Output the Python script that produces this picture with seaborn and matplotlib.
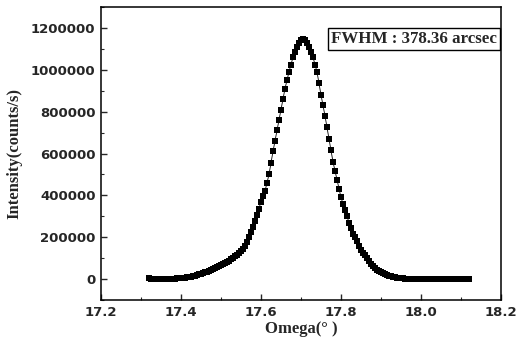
import numpy as np
import pandas as pd
import matplotlib
matplotlib.use('Agg')
import matplotlib.pyplot as plt
import seaborn as sns
from matplotlib.ticker import MultipleLocator, FormatStrFormatter

# omega scan: 17.320 .. 18.120 deg, step 0.005
omega_start = 17.32
omega_step = 0.005

# intensity, in units of 1000 counts/s
intensity_k = [
    3, 2, 2, 1, 1, 1, 1, 1, 1, 1,
    1, 1, 1, 2, 3, 3, 4, 5, 7, 8,
    10, 12, 15, 17, 20, 23, 26, 29, 32, 36,
    40, 44, 48, 52, 57, 61, 66, 71, 77, 82,
    88, 94, 101, 108, 115, 125, 135, 146, 158, 178,
    200, 225, 250, 277, 305, 337, 370, 395, 420, 460,
    500, 555, 610, 660, 710, 760, 810, 860, 910, 950,
    990, 1025, 1060, 1085, 1110, 1127, 1140, 1145, 1143, 1130,
    1110, 1085, 1060, 1025, 990, 935, 880, 830, 780, 725,
    670, 615, 560, 518, 475, 432, 390, 360, 330, 300,
    270, 242, 215, 200, 182, 160, 140, 127, 113, 99,
    85, 73, 62, 53, 45, 38, 32, 28, 24, 20,
    16, 13, 11, 8, 6, 5, 4, 3, 2, 2,
    1, 1, 0, 1, 1, 0, 0, 0, 0, 0,
    0, 0, 0, 0, 0, 0, 0, 0, 0, 0,
    0, 0, 0, 0, 0, 0, 0, 0, 0, 0,
    0,
]

x_ticks = [17.2, 17.4, 17.6, 17.8, 18.0, 18.2]
y_ticks = [0, 200000, 400000, 600000, 800000, 1000000, 1200000]
fwhm_label = 'FWHM : 378.36 arcsec'

df = pd.DataFrame({
    'omega': np.round(omega_start + omega_step * np.arange(len(intensity_k)), 3),
    'intensity': np.array(intensity_k) * 1000,
})

sns.set_style('ticks')
plt.rcParams['font.family'] = ['DejaVu Sans']
plt.rcParams['xtick.direction'] = 'in'
plt.rcParams['ytick.direction'] = 'in'

fig = plt.figure(figsize=(5.19, 3.45), dpi=100)
ax = fig.add_axes([0.1946, 0.1304, 0.7707, 0.8493])

sns.lineplot(data=df, x='omega', y='intensity', ax=ax, color='black',
             linewidth=0.6, marker='s', markersize=4.6, markeredgewidth=0,
             markerfacecolor='black')

ax.set_xlim(17.2, 18.2)
ax.set_ylim(-100000, 1300000)
ax.set_xticks(x_ticks)
ax.set_yticks(y_ticks)
ax.xaxis.set_major_formatter(FormatStrFormatter('%.1f'))
ax.yaxis.set_major_formatter(FormatStrFormatter('%d'))
ax.xaxis.set_minor_locator(MultipleLocator(0.1))
ax.yaxis.set_minor_locator(MultipleLocator(100000))
ax.tick_params(which='major', length=4, width=1, labelsize=9.5, pad=4)
ax.tick_params(which='minor', length=2, width=0.8)
for lbl in ax.get_xticklabels() + ax.get_yticklabels():
    lbl.set_fontweight('bold')

for side in ['top', 'right', 'bottom', 'left']:
    ax.spines[side].set_visible(True)
    ax.spines[side].set_linewidth(1.1)
    ax.spines[side].set_color('black')

ax.set_xlabel('Omega(° )', family='Liberation Serif', fontweight='bold',
              fontsize=12, labelpad=1.5)
ax.set_ylabel('Intensity(counts/s)', family='Liberation Serif',
              fontweight='bold', fontsize=12, labelpad=6)

ax.text(0.99, 0.918, fwhm_label, transform=ax.transAxes, ha='right', va='top',
        family='Liberation Serif', fontweight='bold', fontsize=12.2,
        bbox=dict(boxstyle='square,pad=0.2', facecolor='white',
                  edgecolor='black', linewidth=1))

fig.savefig('out.png', dpi=100)
